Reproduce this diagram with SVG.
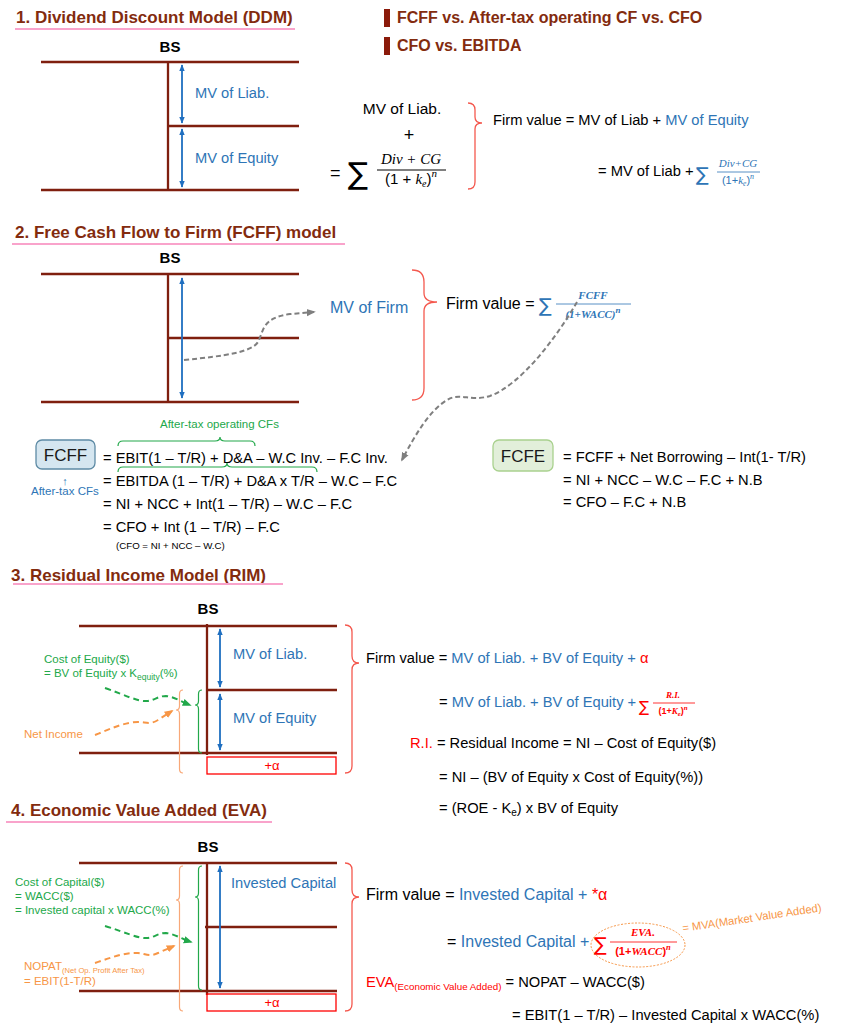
<svg xmlns="http://www.w3.org/2000/svg" width="843" height="1027" viewBox="0 0 843 1027">
<style>
text{font-family:"Liberation Sans",Arial,sans-serif;}
.ttl{font-size:17px;font-weight:bold;fill:#832B0E}
.hd{font-size:16px;font-weight:bold;fill:#832B0E}
.ul{stroke:#F9A3CB;stroke-width:2}
.bs{font-size:15px;font-weight:bold;fill:#000;text-anchor:middle}
.bl{stroke:#7F1F0F;stroke-width:2.3;fill:none}
.ba{stroke:#1F6FC0;stroke-width:1.8;marker-start:url(#ab);marker-end:url(#ab)}
.t{font-size:14.7px;fill:#000}
.t16{font-size:16px;fill:#000}
.b{fill:#2E75B6}
.r{fill:#FF0000}
.g{fill:#22A84A}
.o{fill:#F79646}
.sm{font-size:11.5px}
.m{font-family:"Liberation Serif","DejaVu Serif",serif;font-style:italic}
.sig{font-family:"DejaVu Sans",sans-serif;font-style:normal}
.rb{stroke:#F4594F;stroke-width:1.3;fill:none}
.gb{stroke:#22A84A;stroke-width:1.2;fill:none}
.ob{stroke:#F8A878;stroke-width:1.2;fill:none}
.gd{stroke:#7F7F7F;stroke-width:2;stroke-dasharray:5,3;fill:none;marker-end:url(#ag)}
.gr{stroke:#22A84A;stroke-width:2;stroke-dasharray:6,4;fill:none;marker-end:url(#agr)}
.or{stroke:#F79646;stroke-width:2;stroke-dasharray:6,4;fill:none;marker-end:url(#aor)}
.box{fill:none;stroke:#FF0000;stroke-width:1.3}
</style>
<defs>
<marker id="ab" viewBox="0 0 10 10" refX="9" refY="5" markerWidth="7" markerHeight="7" markerUnits="userSpaceOnUse" orient="auto-start-reverse"><path d="M0,1 L10,5 L0,9 z" fill="#1F6FC0"/></marker>
<marker id="ag" viewBox="0 0 10 10" refX="8" refY="5" markerWidth="9" markerHeight="9" markerUnits="userSpaceOnUse" orient="auto"><path d="M0,1 L10,5 L0,9 z" fill="#7F7F7F"/></marker>
<marker id="agr" viewBox="0 0 10 10" refX="8" refY="5" markerWidth="9" markerHeight="9" markerUnits="userSpaceOnUse" orient="auto"><path d="M0,1 L10,5 L0,9 z" fill="#22A84A"/></marker>
<marker id="aor" viewBox="0 0 10 10" refX="8" refY="5" markerWidth="9" markerHeight="9" markerUnits="userSpaceOnUse" orient="auto"><path d="M0,1 L10,5 L0,9 z" fill="#F79646"/></marker>
</defs>

<!-- Header bullets -->
<g id="bullets">
<rect x="384" y="9" width="6" height="18" fill="#8B1A0A"/>
<text x="397" y="23" class="hd">FCFF vs. After-tax operating CF vs. CFO</text>
<rect x="384" y="37" width="6" height="18" fill="#8B1A0A"/>
<text x="397" y="51" class="hd">CFO vs. EBITDA</text>
</g>

<!-- Section 1 -->
<g id="sec1-title">
<text x="16" y="23" class="ttl">1. Dividend Discount Model (DDM)</text>
<line x1="15" y1="29" x2="295" y2="29" class="ul"/>
</g>
<g id="sec1-bs">
<text x="170" y="52" class="bs">BS</text>
<path class="bl" d="M41,62 H299 M168,126 H299 M41,190 H299 M168,61 V191"/>
<line x1="182" y1="65" x2="182" y2="123" class="ba"/>
<line x1="182" y1="129" x2="182" y2="187" class="ba"/>
<text x="195" y="98" class="t b">MV of Liab.</text>
<text x="195" y="163" class="t b">MV of Equity</text>
</g>
<g id="sec1-formula">
<text x="402" y="114" text-anchor="middle" font-family="Liberation Serif,serif" font-size="15.5">MV of Liab.</text>
<text x="409" y="141" text-anchor="middle" font-family="Liberation Serif,serif" font-size="18">+</text>
<text x="330" y="179" font-family="Liberation Serif,serif" font-size="18">=</text>
<text x="348" y="184" class="sig" font-size="30">∑</text>
<text x="411" y="164" text-anchor="middle" class="m" font-size="15">Div + CG</text>
<line x1="377" y1="170" x2="446" y2="170" stroke="#000" stroke-width="1"/>
<text x="411" y="184" text-anchor="middle" font-family="Liberation Serif,serif" font-size="15">(1 + <tspan class="m">k</tspan><tspan class="m" font-size="10" dy="3">e</tspan><tspan dy="-3">)</tspan><tspan class="m" font-size="11" dy="-7">n</tspan></text>
<path class="rb" d="M468,103 Q475,103 475,110 L475,117 Q475,123 482,123 Q475,123 475,129 L475,182 Q475,189 468,189"/>
<text x="493" y="125" class="t">Firm value = MV of Liab + <tspan class="b">MV of Equity</tspan></text>
<text x="598" y="176" class="t">= MV of Liab + </text>
<text x="696" y="181" class="sig b" font-size="19">∑</text>
<text x="738" y="167" text-anchor="middle" class="m b" font-size="11">Div+CG</text>
<line x1="717" y1="172" x2="760" y2="172" stroke="#2E75B6" stroke-width="0.8"/>
<text x="738" y="184" text-anchor="middle" font-family="Liberation Serif,serif" font-size="11" fill="#2E75B6">(1+<tspan class="m">k</tspan><tspan class="m" font-size="7.5" dy="2">e</tspan><tspan dy="-2">)</tspan><tspan class="m" font-size="8" dy="-5">n</tspan></text>
</g>

<!-- Section 2 -->
<g id="sec2-title">
<text x="15" y="238" class="ttl">2. Free Cash Flow to Firm (FCFF) model</text>
<line x1="12" y1="244" x2="345" y2="244" class="ul"/>
</g>
<g id="sec2-bs">
<text x="170" y="263" class="bs">BS</text>
<path class="bl" d="M41,274 H299 M168,338 H299 M41,402 H299 M168,273 V403"/>
<line x1="182" y1="278" x2="182" y2="398" class="ba"/>
</g>
<g id="mv-firm">
<text x="330" y="313" class="t16 b">MV of Firm</text>
</g>
<g id="sec2-formula">
<path class="rb" d="M412,270 Q424,270 424,282 L424,293 Q424,302 437,302 Q424,302 424,311 L424,388 Q424,400 412,400"/>
<text x="446" y="309" class="t16">Firm value = </text>
<text x="539" y="312" class="sig b" font-size="19">∑</text>
<text x="593" y="299" text-anchor="middle" class="m b" font-size="11" font-weight="bold">FCFF</text>
<line x1="556" y1="304" x2="631" y2="304" stroke="#2E75B6" stroke-width="0.8"/>
<text x="593" y="318" text-anchor="middle" class="m b" font-size="11" font-weight="bold">(1+WACC)<tspan font-size="9" dy="-5">n</tspan></text>
</g>
<g id="fcff">
<rect x="36" y="440" width="59" height="29" rx="6" fill="#D5E6F0" stroke="#5E8BA5" stroke-width="1.3"/>
<text x="65.5" y="461" text-anchor="middle" font-size="17" fill="#1a1a1a">FCFF</text>
<text x="65" y="485" text-anchor="middle" font-size="11" fill="#2E75B6">↑</text>
<text x="31" y="495" class="sm b">After-tax CFs</text>
<text x="160" y="428" class="sm g">After-tax operating CFs</text>
<path class="gb" d="M118,446 Q118,441 123,441 L215,441 Q220,441 220,437 Q220,441 225,441 L250,441 Q255,441 255,446"/>
<path class="gb" d="M118,472 Q118,467 123,467 L222,467 Q227,467 227,463 Q227,467 232,467 L312,467 Q317,467 317,472"/>
<text x="103" y="463" class="t">= EBIT(1 – T/R) + D&amp;A – W.C Inv. – F.C Inv.</text>
<text x="103" y="486" class="t">= EBITDA (1 – T/R) + D&amp;A x T/R – W.C – F.C</text>
<text x="103" y="509" class="t">= NI + NCC + Int(1 – T/R) – W.C – F.C</text>
<text x="103" y="532" class="t">= CFO + Int (1 – T/R) – F.C</text>
<text x="116" y="549" font-size="9.7">(CFO = NI + NCC – W.C)</text>
</g>
<g id="fcfe">
<rect x="493" y="440" width="60" height="31" rx="6" fill="#E2EFDA" stroke="#A9D18E" stroke-width="1.3"/>
<text x="523" y="462" text-anchor="middle" font-size="17" fill="#1a1a1a">FCFE</text>
<text x="563" y="462" class="t">= FCFF + Net Borrowing – Int(1- T/R)</text>
<text x="563" y="485" class="t">= NI + NCC – W.C – F.C + N.B</text>
<text x="563" y="507" class="t">= CFO – F.C + N.B</text>
</g>

<!-- Section 3 -->
<g id="sec3-title">
<text x="11" y="581" class="ttl">3. Residual Income Model (RIM)</text>
<line x1="13" y1="584" x2="283" y2="584" class="ul"/>
</g>
<g id="sec3-bs">
<text x="208" y="614" class="bs">BS</text>
<path class="bl" d="M79,626 H337 M207,690 H337 M79,753 H337 M207,624 V755"/>
<line x1="220" y1="629" x2="220" y2="687" class="ba"/>
<line x1="220" y1="694" x2="220" y2="750" class="ba"/>
<text x="233" y="659" class="t b">MV of Liab.</text>
<text x="233" y="723" class="t b">MV of Equity</text>
<rect x="207" y="757" width="129" height="17" class="box"/>
<text x="272" y="770" text-anchor="middle" font-size="13" class="r">+α</text>
<path class="ob" d="M183,690 Q179.5,690 179.5,694 L179.5,706 Q179.5,710 176,710 Q179.5,710 179.5,714 L179.5,769 Q179.5,773 183,773"/>
<path class="gb" d="M202,690 Q198.5,690 198.5,694 L198.5,701 Q198.5,705 195,705 Q198.5,705 198.5,709 L198.5,749 Q198.5,753 202,753"/>
<path class="rb" d="M345,625 Q352,625 352,632 L352,656 Q352,663 359,663 Q352,663 352,670 L352,766 Q352,773 345,773"/>
</g>
<g id="cost-equity">
<text x="44" y="663" class="sm g">Cost of Equity($)</text>
<text x="44" y="677" class="sm g">= BV of Equity x K<tspan font-size="8.5" dy="3">equity</tspan><tspan dy="-3">(%)</tspan></text>
</g>
<g id="net-income">
<text x="24" y="738" class="sm o">Net Income</text>
</g>
<g id="sec3-formula">
<text x="366" y="663" class="t">Firm value = <tspan class="b">MV of Liab. + BV of Equity + </tspan><tspan class="r">α</tspan></text>
<text x="439" y="707" class="t">= <tspan class="b">MV of Liab. + BV of Equity + </tspan></text>
<text x="639" y="712" class="sig r" font-size="15">∑</text>
<text x="673" y="698" text-anchor="middle" class="m r" font-size="9" font-weight="bold">R.I.</text>
<line x1="653" y1="703" x2="695" y2="703" stroke="#FF0000" stroke-width="0.8"/>
<text x="673" y="714" text-anchor="middle" font-family="Liberation Serif,serif" font-size="9" font-weight="bold" fill="#FF0000">(1+<tspan class="m">K</tspan><tspan class="m" font-size="6.5" dy="2">e</tspan><tspan dy="-2">)</tspan><tspan class="m" font-size="7" dy="-4">n</tspan></text>
<text x="410" y="748" class="t"><tspan class="r">R.I.</tspan> = Residual Income = NI – Cost of Equity($)</text>
<text x="439" y="782" class="t">= NI – (BV of Equity x Cost of Equity(%))</text>
<text x="439" y="813" class="t">= (ROE - K<tspan font-size="10" dy="3">e</tspan><tspan dy="-3">) x BV of Equity</tspan></text>
</g>

<!-- Section 4 -->
<g id="sec4-title">
<text x="11" y="816" class="ttl">4. Economic Value Added (EVA)</text>
<line x1="6" y1="822" x2="272" y2="822" class="ul"/>
</g>
<g id="sec4-bs">
<text x="208" y="852" class="bs">BS</text>
<path class="bl" d="M79,863 H337 M205,927 H337 M79,991 H337 M207,862 V995"/>
<line x1="220" y1="866" x2="220" y2="988" class="ba"/>
<text x="231" y="888" class="t b">Invested Capital</text>
<rect x="207" y="994" width="129" height="17" class="box"/>
<text x="272" y="1007" text-anchor="middle" font-size="13" class="r">+α</text>
<path class="ob" d="M183,866 Q179.5,866 179.5,870 L179.5,896 Q179.5,900 176,900 Q179.5,900 179.5,904 L179.5,1007 Q179.5,1011 183,1011"/>
<path class="gb" d="M202,866 Q198.5,866 198.5,870 L198.5,893 Q198.5,897 195,897 Q198.5,897 198.5,901 L198.5,986 Q198.5,990 202,990"/>
<path class="rb" d="M345,863 Q352,863 352,870 L352,890 Q352,897 359,897 Q352,897 352,904 L352,1004 Q352,1011 345,1011"/>
</g>
<g id="cost-capital">
<text x="15" y="886" class="sm g">Cost of Capital($)</text>
<text x="15" y="900" class="sm g">= WACC($)</text>
<text x="15" y="914" class="sm g">= Invested capital x WACC(%)</text>
</g>
<g id="nopat">
<text x="24" y="970" class="sm o">NOPAT<tspan font-size="7.6" dy="3">(Net Op. Profit After Tax)</tspan></text>
<text x="24" y="985" class="sm o">= EBIT(1-T/R)</text>
</g>
<g id="sec4-formula">
<text x="366" y="900" class="t16">Firm value = <tspan class="b">Invested Capital + </tspan><tspan class="r">*α</tspan></text>
<text x="447" y="947" class="t16">= <tspan class="b">Invested Capital + </tspan></text>
<ellipse cx="638" cy="945" rx="47" ry="22" fill="none" stroke="#F79646" stroke-width="1" stroke-dasharray="2,1.5"/>
<text x="594" y="951" class="sig r" font-size="19">∑</text>
<text x="643" y="936" text-anchor="middle" class="m r" font-size="11" font-weight="bold">EVA.</text>
<line x1="610" y1="942" x2="677" y2="942" stroke="#FF0000" stroke-width="0.8"/>
<text x="643" y="955" text-anchor="middle" font-family="Liberation Serif,serif" font-size="11" font-weight="bold" fill="#FF0000">(1+<tspan class="m">WACC</tspan>)<tspan class="m" font-size="8.5" dy="-5">n</tspan></text>
<text x="683" y="932" font-size="11.2" class="o" transform="rotate(-8.5 683 932)">= MVA(Market Value Added)</text>
<text x="366" y="987" class="t"><tspan class="r">EVA</tspan><tspan class="r" font-size="9.8" dy="3">(Economic Value Added)</tspan><tspan dy="-3"> = NOPAT – WACC($)</tspan></text>
<text x="512" y="1020" class="t">= EBIT(1 – T/R) – Invested Capital x WACC(%)</text>
</g>

<!-- Connectors -->
<g id="connectors">
<path class="gd" d="M184,360 C225,356 252,352 258,342 C264,330 262,318 290,314 L314,312"/>
<path class="gd" d="M577,302 C555,340 520,385 490,396 C470,402 460,392 447,400 C430,410 415,435 402,460"/>
<path class="gr" d="M105,688 C125,695 138,702 148,701 C155,700 158,696 166,696 C175,697 182,702 190,705"/>
<path class="or" d="M95,735 C110,729 125,722 138,722 C146,722 150,725 158,720 L172,711"/>
<path class="gr" d="M105,926 C125,932 138,939 148,938 C155,937 158,933 166,933 C175,934 182,939 191,942"/>
<path class="or" d="M95,963 C110,958 125,952 138,953 C146,954 150,957 158,953 L174,946"/>
</g>
</svg>
